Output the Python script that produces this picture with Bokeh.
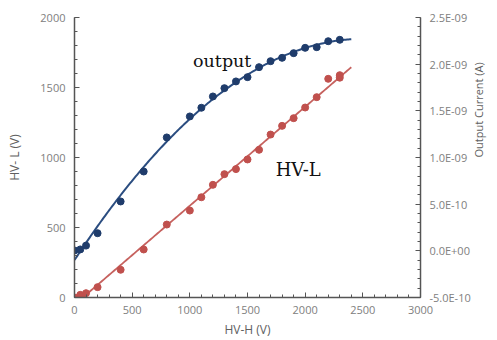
import numpy as np
from bokeh.plotting import figure
from bokeh.models import (Range1d, LinearAxis, SingleIntervalTicker, FixedTicker,
                          CustomJSTickFormatter, Label)
from bokeh.embed import file_html
from bokeh.resources import INLINE

# ---- data ----
hvh_out = [0, 50, 100, 200, 400, 600, 800, 1000, 1100, 1200, 1300, 1400, 1500,
           1600, 1700, 1800, 1900, 2000, 2100, 2200, 2300]
current_out = [0.04e-10, 0.15e-10, 0.56e-10, 1.89e-10, 5.29e-10, 8.50e-10, 12.15e-10,
               14.40e-10, 15.33e-10, 16.54e-10, 17.43e-10, 18.15e-10, 18.61e-10,
               19.68e-10, 20.32e-10, 20.68e-10, 21.18e-10, 21.75e-10, 21.82e-10,
               22.46e-10, 22.61e-10]

hvh_l = [0, 50, 100, 200, 400, 600, 800, 1000, 1100, 1200, 1300, 1400, 1500,
         1600, 1700, 1800, 1900, 2000, 2100, 2200, 2300, 2300]
hvl = [0, 19, 31, 74, 198, 343, 521, 621, 716, 805, 881, 917, 986, 1055, 1164,
       1226, 1281, 1357, 1431, 1562, 1570, 1588]

left_range = (0, 2000)
right_range = (-5e-10, 2.5e-9)
x_range = (0, 3000)
trend_end = 2400

# ---- trend lines (fits of the data) ----
xs = np.linspace(0, trend_end, 200)
fit_out = np.polyval(np.polyfit(hvh_out, current_out, 2), xs)
fit_l = np.polyval(np.polyfit(hvh_l, hvl, 1), xs)

BLUE = "#1f3c6b"
BLUE_LINE = "#2b4d80"
RED = "#c0504d"
TICK_C = "#808080"
TITLE_C = "#606060"
AX_C = "#555555"

p = figure(width=497, height=340, output_backend="svg", toolbar_location=None,
           x_range=Range1d(*x_range), y_range=Range1d(*left_range),
           min_border_left=74, min_border_right=77, min_border_top=17, min_border_bottom=43)
p.outline_line_color = None
p.xgrid.visible = False
p.ygrid.visible = False

p.extra_y_ranges = {"current": Range1d(*right_range)}
raxis = LinearAxis(y_range_name="current",
                   ticker=SingleIntervalTicker(interval=5e-10, num_minor_ticks=5))
raxis.formatter = CustomJSTickFormatter(code="""
var s = tick.toExponential(1).split('e');
var e = parseInt(s[1]);
var a = Math.abs(e);
return s[0] + 'E' + (e < 0 ? '-' : '+') + (a < 10 ? '0' : '') + a;
""")
p.add_layout(raxis, "right")

# title-only axis for the right-hand axis title (positioned like the reference)
tax = LinearAxis(y_range_name="current", ticker=FixedTicker(ticks=[]),
                 bounds=(7.0e-10, 8.1e-10))
tax.axis_line_color = None
tax.major_tick_in = 0
tax.major_tick_out = 0
tax.minor_tick_in = 0
tax.minor_tick_out = 0
tax.major_label_standoff = 0
tax.axis_label = "Output Current (A)"
tax.axis_label_orientation = np.pi / 2
tax.axis_label_text_font = "Open Sans"
tax.axis_label_text_font_size = "11px"
tax.axis_label_text_font_style = "normal"
tax.axis_label_text_color = "#606060"
tax.axis_label_standoff = 5
p.add_layout(tax, "right")

p.xaxis.ticker = SingleIntervalTicker(interval=500, num_minor_ticks=5)
p.yaxis[0].ticker = SingleIntervalTicker(interval=500, num_minor_ticks=5)
p.xaxis.axis_label = "HV-H (V)"
p.yaxis[0].axis_label = "HV- L (V)"

for ax in [p.xaxis[0], p.yaxis[0], raxis]:
    ax.axis_line_color = AX_C
    ax.axis_line_width = 1.5
    ax.major_tick_line_color = AX_C
    ax.minor_tick_line_color = AX_C
    ax.major_tick_in = 5
    ax.major_tick_out = 0
    ax.minor_tick_in = 3
    ax.minor_tick_out = 0
    ax.major_label_text_font = "Open Sans"
    ax.major_label_text_font_size = "11px"
    ax.major_label_text_color = TICK_C
    ax.axis_label_text_font = "Open Sans"
    ax.axis_label_text_font_size = "12px"
    ax.axis_label_text_font_style = "normal"
    ax.axis_label_text_color = TITLE_C
    ax.major_label_standoff = 9

p.yaxis[0].axis_label_standoff = 14
p.xaxis.major_label_standoff = 8
p.xaxis.axis_label_standoff = 4

# lines
p.line(xs, fit_out, y_range_name="current", line_color=BLUE_LINE, line_width=2)
p.line(xs, fit_l, line_color=RED, line_width=1.8, line_alpha=0.9)

# points
p.scatter(hvh_out, current_out, y_range_name="current", size=7, marker="circle",
          fill_color=BLUE, line_color=BLUE)
p.scatter(hvh_l, hvl, size=7, marker="circle", fill_color=RED, line_color=RED)

# annotations
p.add_layout(Label(x=1028, y=1688, text="output", text_font="DejaVu Serif",
                   text_font_size="17.5px", text_color="#111111",
                   text_baseline="alphabetic"))
p.add_layout(Label(x=1744, y=914, text="HV-L", text_font="DejaVu Serif",
                   text_font_size="18px", text_color="#111111",
                   text_baseline="alphabetic"))

open("out.html", "w").write(file_html(p, INLINE))
